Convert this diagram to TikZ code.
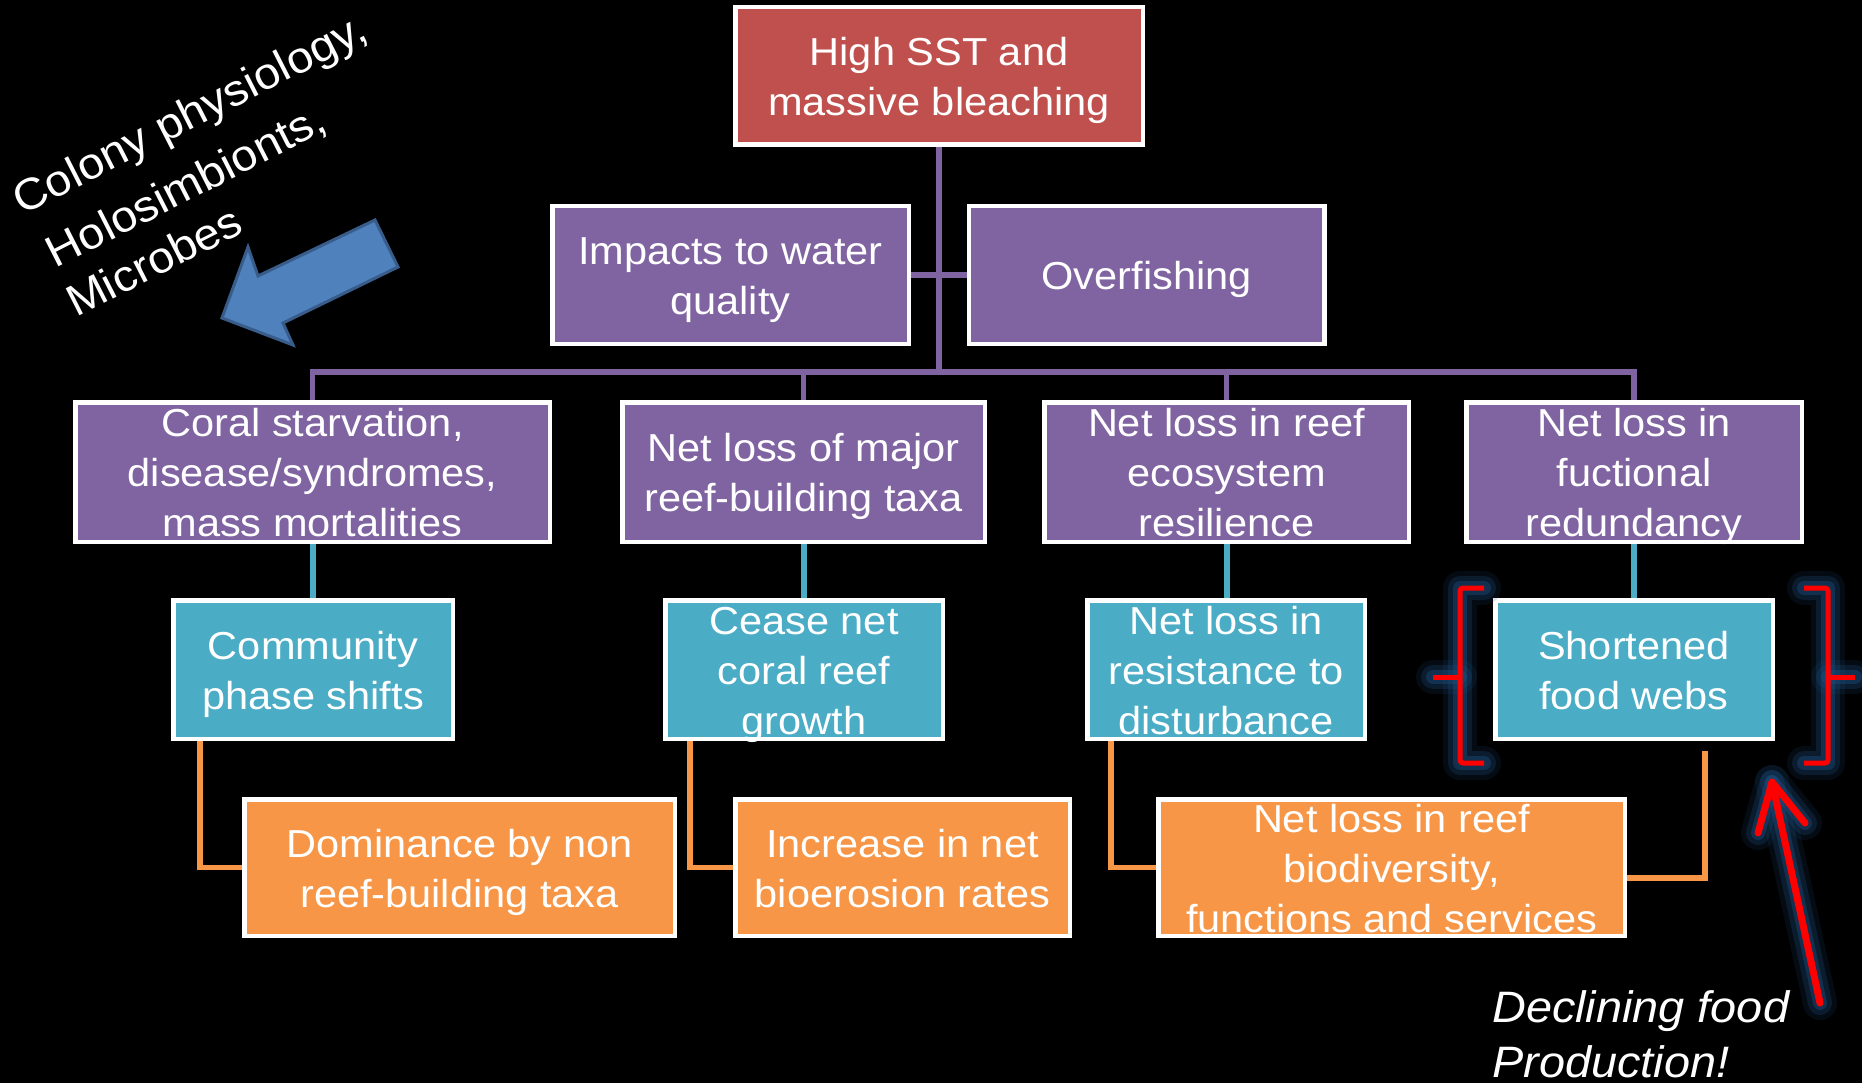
\documentclass[tikz,border=0pt]{standalone}
\usepackage{fontspec}
\setmainfont{Liberation Sans}[FakeStretch=1.065]
\definecolor{cred}{RGB}{192,80,77}
\definecolor{cpur}{RGB}{128,100,162}
\definecolor{cteal}{RGB}{75,172,198}
\definecolor{corg}{RGB}{247,150,70}
\definecolor{cblue}{RGB}{79,129,189}
\definecolor{cblueb}{RGB}{56,93,138}
\definecolor{glowc}{RGB}{30,80,130}
\newcommand\lstrut{\rule[-10.5pt]{0pt}{50pt}}
\newcommand\brk{\\\lstrut}
\pgfdeclarelayer{bg}\pgfdeclarelayer{conn}\pgfsetlayers{bg,conn,main}
\begin{document}
\begin{tikzpicture}[x=1pt,y=-1pt,
  box/.style={draw=white, line width=4.5pt, text=white, align=center,
    inner xsep=0pt, inner ysep=-20pt, font=\fontsize{39}{50}\selectfont},
  redbox/.style={box, fill=cred, minimum height=137.5pt},
  midbox/.style={box, fill=cpur, minimum height=137.5pt},
  purbox/.style={box, fill=cpur, minimum height=139.5pt},
  tealbox/.style={box, fill=cteal, minimum height=138.5pt},
  orgbox/.style={box, fill=corg, minimum height=136.5pt},
  pline/.style={draw=cpur, line width=5.5pt},
  tline/.style={draw=cteal, line width=6pt},
  oline/.style={draw=corg, line width=5.5pt},
  rot/.style={anchor=base west, rotate=27, text=white, inner sep=0pt,
    font=\fontsize{44}{53}\selectfont},
  decl/.style={anchor=base west, text=white, inner sep=0pt,
    font=\fontsize{44}{53}\selectfont\itshape},
  glowa/.style={draw=glowc, opacity=0.15, line width=34pt, line cap=round, line join=round},
  glowb/.style={draw=glowc, opacity=0.25, line width=24pt, line cap=round, line join=round},
  glowd/.style={draw=glowc, opacity=0.4, line width=14pt, line cap=round, line join=round},
  redln/.style={draw=red, line width=5pt, rounded corners=3pt},
  redarr/.style={draw=red, line width=7pt, line cap=round, line join=round}
]
\begin{pgfonlayer}{bg}
\fill[black] (0,0) rectangle (1862,1083);
\end{pgfonlayer}
\useasboundingbox (0,0) rectangle (1862,1083);

% boxes
\node[redbox, minimum width=407.5pt] (top) at (939,76) {\lstrut High SST and\brk massive bleaching};
\node[midbox, minimum width=356.5pt] (imp) at (730.5,275) {\lstrut Impacts to water\brk quality};
\node[midbox, minimum width=355.5pt] (ovf) at (1146.5,275) {\lstrut Overfishing};

\node[purbox, minimum width=474.5pt] (l3a) at (312.5,472) {\lstrut Coral starvation,\brk disease/syndromes,\brk mass mortalities};
\node[purbox, minimum width=362.5pt] (l3b) at (803.5,472) {\lstrut Net loss of major\brk reef-building taxa};
\node[purbox, minimum width=364.5pt] (l3c) at (1226.5,472) {\lstrut Net loss in reef\brk ecosystem\brk resilience};
\node[purbox, minimum width=335.5pt] (l3d) at (1634,472) {\lstrut Net loss in\brk fuctional\brk redundancy};

\node[tealbox, minimum width=279.5pt] (ta) at (313,669.5) {\lstrut Community\brk phase shifts};
\node[tealbox, minimum width=277.5pt] (tb) at (804,669.5) {\lstrut Cease net\brk coral reef\brk growth};
\node[tealbox, minimum width=277.5pt] (tc) at (1226,669.5) {\lstrut Net loss in\brk resistance to\brk disturbance};
\node[tealbox, minimum width=277.5pt] (td) at (1634,669.5) {\lstrut Shortened\brk food webs};

\node[orgbox, minimum width=430.5pt] (oa) at (459.5,867.5) {\lstrut Dominance by non\brk reef-building taxa};
\node[orgbox, minimum width=334.5pt] (ob) at (902.5,867.5) {\lstrut Increase in net\brk bioerosion rates};
\node[orgbox, minimum width=466.5pt] (oc) at (1391.5,867.5) {\lstrut Net loss in reef\brk biodiversity,\brk functions and services};

% connectors
\begin{pgfonlayer}{conn}
\coordinate (bus) at (0,372);
\draw[pline] (top.south) -- (top.south |- bus);
\draw[pline] (l3a.north) -- (l3a.north |- bus) -- (l3d.north |- bus) -- (l3d.north);
\draw[pline] (l3b.north) -- (l3b.north |- bus);
\draw[pline] (l3c.north) -- (l3c.north |- bus);
\draw[pline] (imp.east) -- (ovf.west);
\draw[tline] (l3a.south) -- (l3a.south |- ta.north);
\draw[tline] (l3b.south) -- (l3b.south |- tb.north);
\draw[tline] (l3c.south) -- (l3c.south |- tc.north);
\draw[tline] (l3d.south) -- (l3d.south |- td.north);
\draw[oline] ([xshift=29pt]ta.south west) |- (oa.west);
\draw[oline] ([xshift=26.75pt]tb.south west) |- (ob.west);
\draw[oline] ([xshift=25.75pt]tc.south west) |- (oc.west);
\draw[oline] ([xshift=211.75pt,yshift=-10pt]td.south west) |- ([yshift=-10.5pt]oc.east);
\end{pgfonlayer}

% brackets and arrow with glow
\foreach \g in {glowa,glowb,glowd}{
  \draw[\g] (1484,588) -- (1460,588) -- (1460,763) -- (1484,763);
  \draw[\g] (1433,677) -- (1460,677);
  \draw[\g] (1804,588) -- (1828,588) -- (1828,763) -- (1804,763);
  \draw[\g] (1828,677) -- (1855,677);
  \draw[\g] (1820,1003) -- (1772,782);
  \draw[\g] (1758,833) -- (1772,782) -- (1805,823);
}
\draw[redln] (1484,588) -- (1460,588) -- (1460,763) -- (1484,763);
\draw[redln] (1433,677) -- (1460,677);
\draw[redln] (1804,588) -- (1828,588) -- (1828,763) -- (1804,763);
\draw[redln] (1828,677) -- (1855,677);
\draw[redarr] (1820,1003) -- (1772,782);
\draw[redarr] (1758,833) -- (1772,782) -- (1805,823);

% blue block arrow
\draw[fill=cblue, draw=cblueb, line width=3pt, line join=miter]
  (375,220) -- (398,267) -- (283,323) -- (293,345) -- (222,318) -- (248,247) -- (258,276) -- cycle;

% free texts
\node[rot] (c1) at (22.5,215.5) {Colony physiology,};
\node[rot] (c2) at (55.5,269) {Holosimbionts,};
\node[rot] (c3) at (76,318) {Microbes};
\node[decl] (d1) at (1492,1022) {Declining food};
\node[decl] (d2) at (1492,1077) {Production!};
\end{tikzpicture}
\end{document}
